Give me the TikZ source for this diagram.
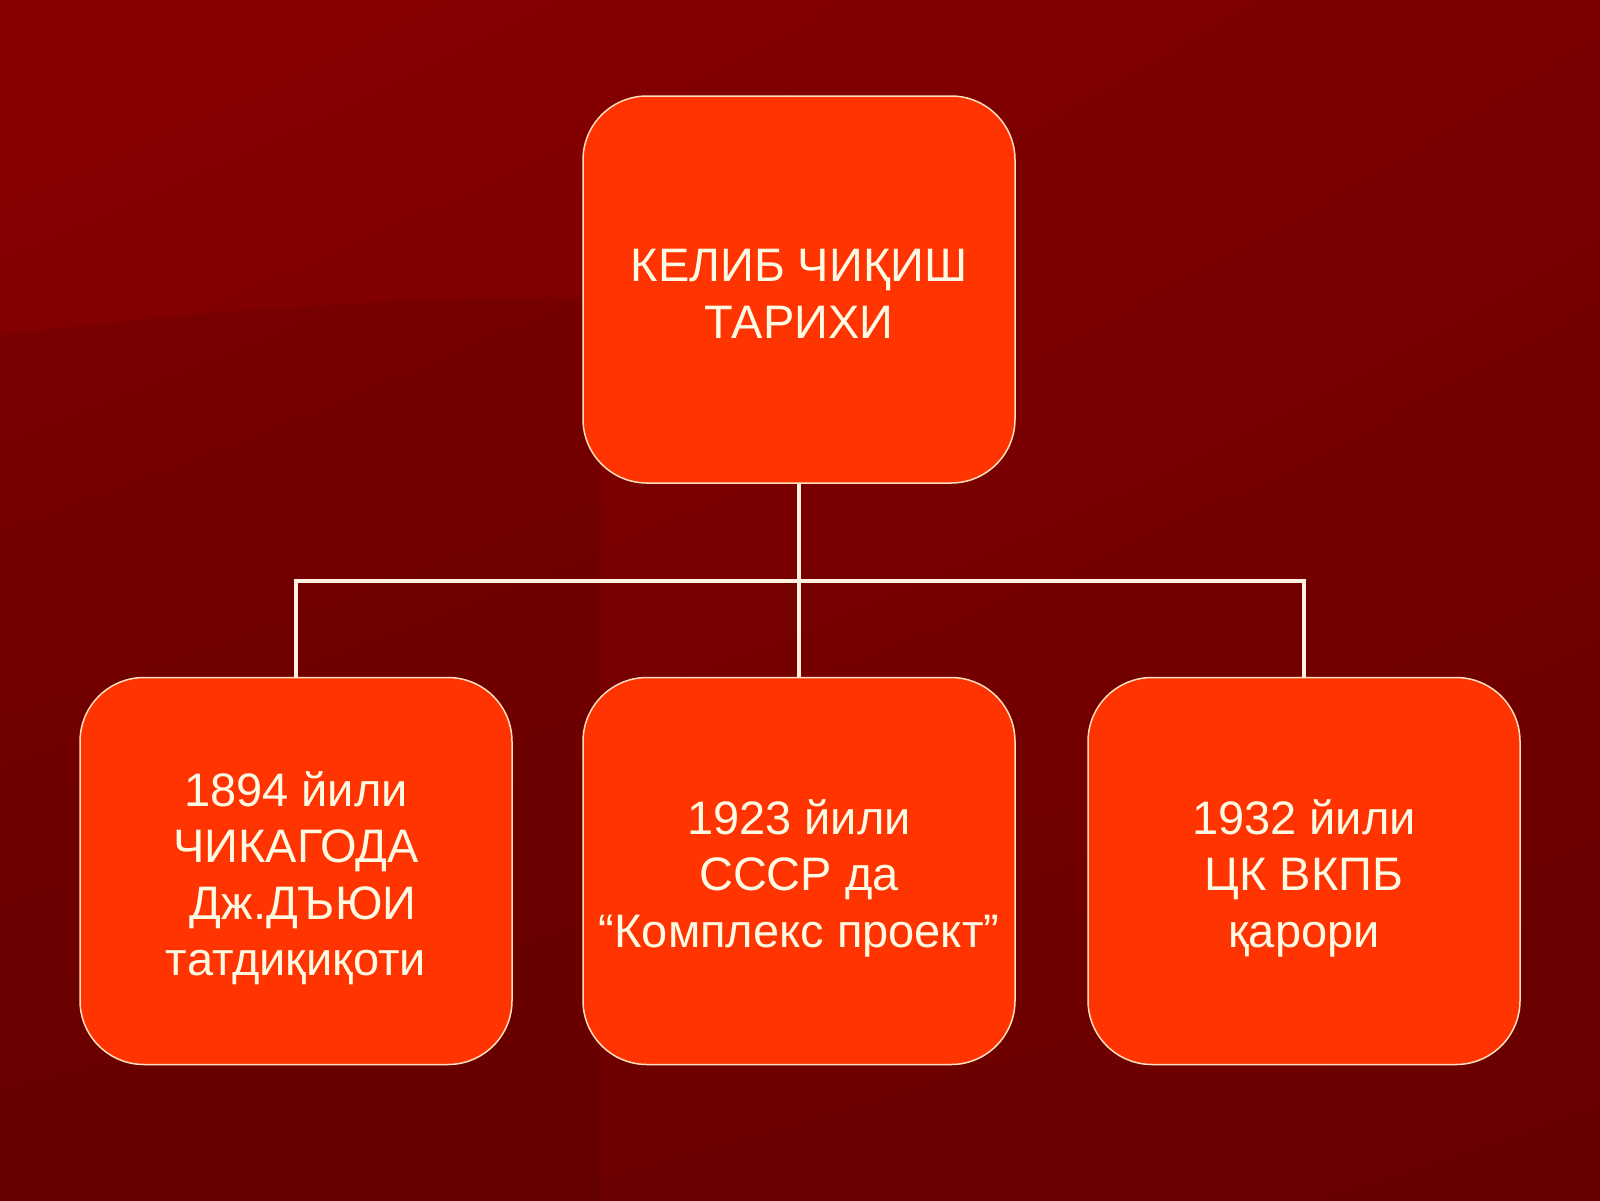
\documentclass[tikz,border=0pt]{standalone}
\usepackage{fontspec}
\setmainfont{Liberation Sans}
\usetikzlibrary{shadings}
\definecolor{bgA}{RGB}{138,0,0}
\definecolor{bgB}{RGB}{122,0,0}
\definecolor{bgC}{RGB}{112,0,0}
\definecolor{bgD}{RGB}{104,0,0}
\definecolor{boxfill}{RGB}{255,52,0}
\definecolor{boxline}{RGB}{255,222,190}
\definecolor{txtcol}{RGB}{255,250,228}
\definecolor{linkcol}{RGB}{255,240,225}
\begin{document}
\begin{tikzpicture}[x=1pt,y=-1pt,
  box/.style={draw=boxline, line width=1.5pt, fill=boxfill, rounded corners=64pt,
    minimum width=432pt, minimum height=387pt, inner sep=0pt},
  txt/.style={text=txtcol, align=center, font=\fontsize{47}{56.5}\selectfont},
  link/.style={draw=linkcol, line width=3.2pt}]
\useasboundingbox (0,0) rectangle (1600,1200);
% background
\shade[upper left=bgA, upper right=bgB, lower left=bgC, lower right=bgD] (0,0) rectangle (1600,1200);
\fill[black, opacity=0.07] (0,335) .. controls (250,305) and (450,295) .. (600,298) -- (600,1200) -- (0,1200) -- cycle;
% boxes
\node[box] (top) at (799,289.5) {};
\node[box] (b1) at (296,871) {};
\node[box] (b2) at (799,871) {};
\node[box] (b3) at (1304,871) {};
% connectors
\coordinate (mid) at (799,581);
\draw[link] (top.south) -- (mid);
\draw[link] (b1.north) |- (mid) -| (b3.north);
\draw[link] (mid) -- (b2.north);
% texts
\node[txt] (t0) at (799,294) {КЕЛИБ ЧИҚИШ\\ТАРИХИ};
\node[txt] (t1) at (296,878) {1894 йили\\ЧИКАГОДА\\\hspace*{0.3em}Дж.ДЪЮИ\\татдиқиқоти};
\node[txt] (t2) at (799,878) {1923 йили\\СССР да\\“Комплекс проект”};
\node[txt] (t3) at (1304,878) {1932 йили\\ЦК ВКПБ\\қарори};
\end{tikzpicture}
\end{document}
